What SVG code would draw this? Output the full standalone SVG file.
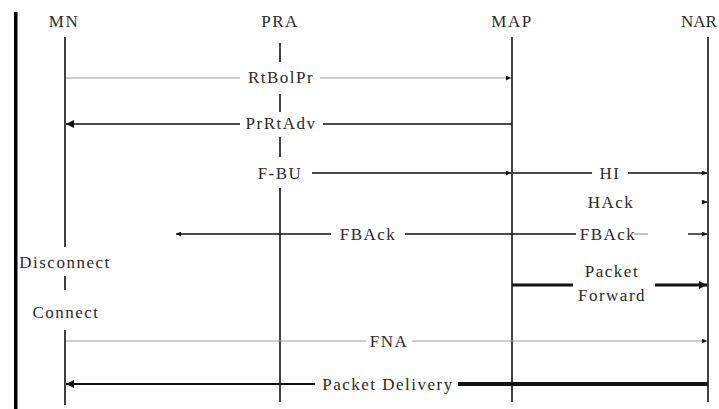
<svg xmlns="http://www.w3.org/2000/svg" width="719" height="409" viewBox="0 0 719 409">
<style>
text{font-family:'Liberation Serif','Times New Roman',Times,serif;font-size:17px;fill:#2a2a2a;letter-spacing:1.5px}
.c{text-anchor:middle}
.life{stroke:#111;stroke-width:1.6;fill:none}
.thin{stroke:#999;stroke-width:1.2;fill:none}
.blk{stroke:#111;stroke-width:1.4;fill:none}
.med{stroke:#111;stroke-width:2;fill:none}
.thk{stroke:#111;stroke-width:3;fill:none}
.thk2{stroke:#111;stroke-width:4;fill:none}
</style>
<defs>
<marker id="ah" viewBox="0 0 10 10" refX="10" refY="5" markerWidth="7" markerHeight="5" markerUnits="userSpaceOnUse" orient="auto"><path d="M0,0 L10,5 L0,10 z" fill="#111"/></marker>
<marker id="ahL" viewBox="0 0 10 10" refX="10" refY="5" markerWidth="11" markerHeight="8" markerUnits="userSpaceOnUse" orient="auto"><path d="M0,0 L10,5 L0,10 z" fill="#111"/></marker>
</defs>
<rect id="frame-bar" x="14" y="12" width="3.5" height="397" fill="#000"/>
<g font-family="Liberation Serif, serif">
<g id="MN">
<text class="c" x="64" y="27">MN</text>
<line class="life" x1="65" y1="37" x2="65" y2="247"/>
<text class="c" x="65" y="268">Disconnect</text>
<line class="life" x1="65" y1="276" x2="65" y2="290"/>
<text class="c" x="66" y="318">Connect</text>
<line class="life" x1="65" y1="330" x2="65" y2="405"/>
</g>
<g id="PRA">
<text class="c" x="280" y="27">PRA</text>
<line class="life" x1="280" y1="43" x2="280" y2="62"/>
<line class="life" x1="280" y1="94" x2="280" y2="112"/>
<line class="life" x1="280" y1="137" x2="280" y2="157"/>
<line class="life" x1="280" y1="188" x2="280" y2="402"/>
</g>
<g id="MAP">
<text class="c" x="512" y="27">MAP</text>
<line class="life" x1="512" y1="37" x2="512" y2="402"/>
</g>
<g id="NAR">
<text x="681" y="27" style="letter-spacing:0">NAR</text>
<line class="life" x1="708" y1="37" x2="708" y2="402"/>
</g>
<g id="connectors">
<g id="m-RtBolPr">
<line class="thin" x1="66" y1="78" x2="240" y2="78"/>
<line class="thin" x1="320" y1="78" x2="511" y2="78" marker-end="url(#ah)"/>
<text class="c" x="281" y="83">RtBolPr</text>
</g>
<g id="m-PrRtAdv">
<line class="blk" x1="512" y1="124" x2="323" y2="124"/>
<line class="blk" x1="240" y1="124" x2="66" y2="124" marker-end="url(#ahL)"/>
<text class="c" x="281" y="129">PrRtAdv</text>
</g>
<g id="m-FBU">
<text class="c" x="280" y="179">F-BU</text>
<line class="blk" x1="312" y1="173" x2="511" y2="173" marker-end="url(#ah)"/>
</g>
<g id="m-HI">
<line class="blk" x1="513" y1="173" x2="592" y2="173"/>
<line class="blk" x1="628" y1="173" x2="707" y2="173" marker-end="url(#ah)"/>
<text class="c" x="610" y="179">HI</text>
</g>
<g id="m-HAck">
<text class="c" x="611" y="208">HAck</text>
<line class="blk" x1="702" y1="202" x2="707" y2="202" marker-end="url(#ah)"/>
</g>
<g id="m-FBAck1">
<line class="blk" x1="331" y1="234" x2="176" y2="234" marker-end="url(#ah)"/>
<text class="c" x="368" y="240">FBAck</text>
<line class="blk" x1="405" y1="234" x2="576" y2="234"/>
</g>
<g id="m-FBAck2">
<text class="c" x="608" y="240">FBAck</text>
<line class="thin" x1="634" y1="234" x2="648" y2="234"/>
<line class="blk" x1="688" y1="234" x2="707" y2="234" marker-end="url(#ah)"/>
</g>
<g id="m-PacketForward">
<line class="thk" x1="512" y1="285" x2="573" y2="285"/>
<text class="c" x="612" y="277">Packet</text>
<text class="c" x="612" y="301">Forward</text>
<line class="thk" x1="655" y1="285" x2="707" y2="285" marker-end="url(#ahL)"/>
</g>
<g id="m-FNA">
<line class="thin" x1="66" y1="341" x2="366" y2="341"/>
<line class="thin" x1="412" y1="341" x2="707" y2="341" marker-end="url(#ah)"/>
<text class="c" x="389" y="347">FNA</text>
</g>
<g id="m-PacketDelivery">
<line class="thk2" x1="708" y1="384" x2="458" y2="384"/>
<text class="c" x="388" y="390">Packet Delivery</text>
<line class="med" x1="315" y1="384" x2="66" y2="384" marker-end="url(#ahL)"/>
</g>
</g>
</g>
</svg>
